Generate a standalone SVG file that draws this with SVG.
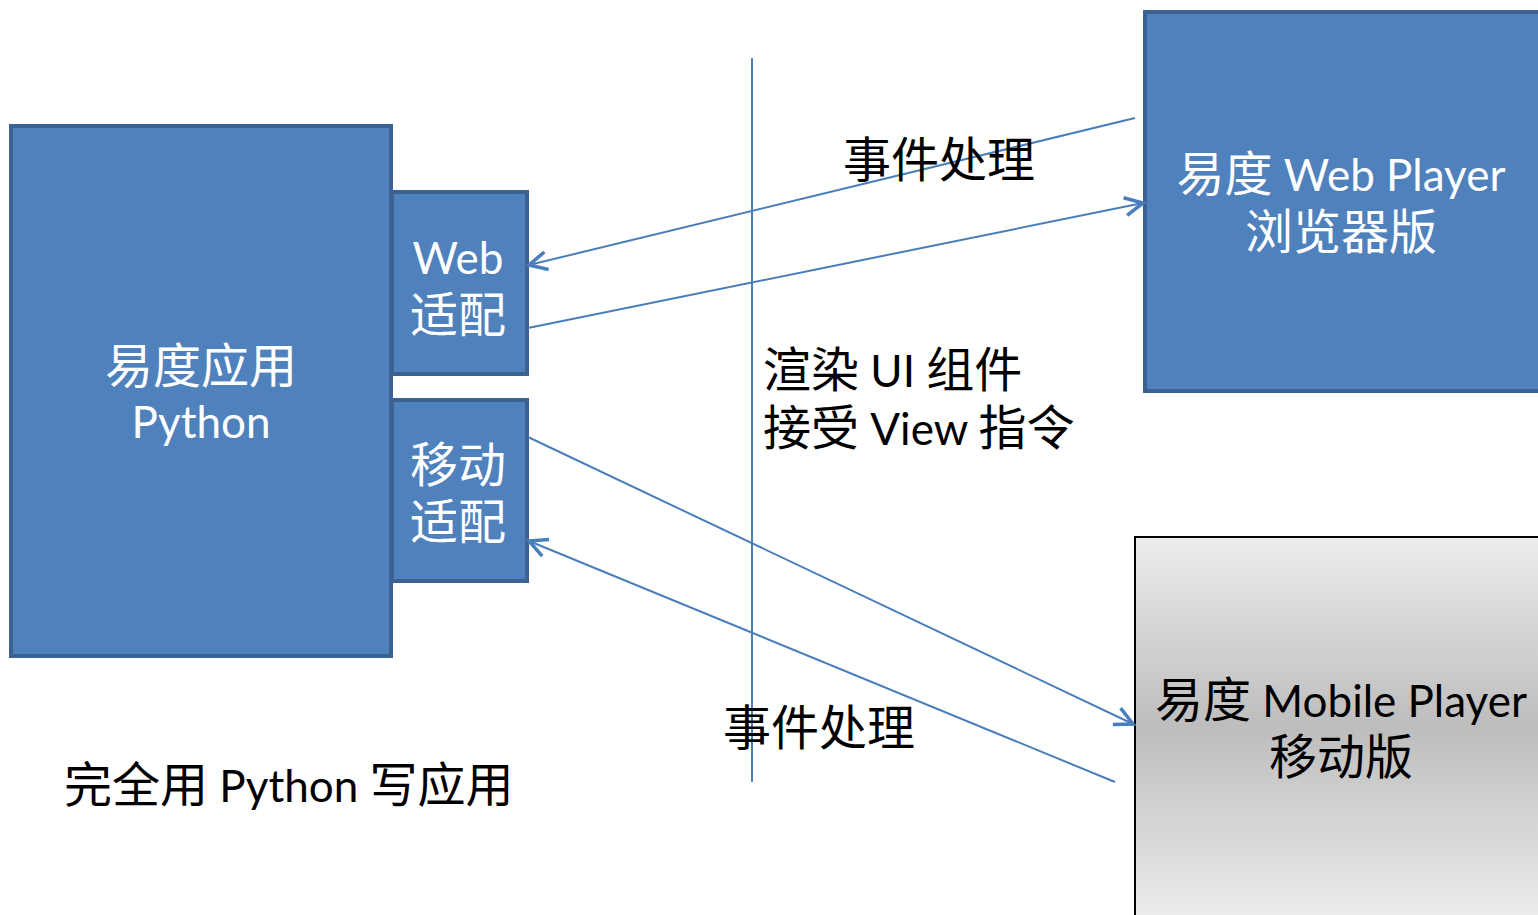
<svg xmlns="http://www.w3.org/2000/svg" width="1538" height="915" viewBox="0 0 1538 915">
<style>
.blue{fill:#4f81bd;stroke:#3b6290;stroke-width:4}
.wt{fill:#ffffff;font-family:"Lato","Noto Sans CJK SC",sans-serif;font-size:44px;text-anchor:middle}
.bt{fill:#000000;font-family:"Lato","Noto Sans CJK SC",sans-serif;font-size:44px}
.c{font-size:48px}
.conn{stroke:#4a7ebb;stroke-width:2;fill:none}
</style>
<defs>
<linearGradient id="g" x1="0" y1="0" x2="0" y2="1">
<stop offset="0" stop-color="#ececec"/>
<stop offset="0.5" stop-color="#bdbdbd"/>
<stop offset="1" stop-color="#ececec"/>
</linearGradient>
<marker id="ah" viewBox="0 0 24 24" refX="21" refY="12" markerWidth="24" markerHeight="24" markerUnits="userSpaceOnUse" orient="auto">
<path d="M3,3 L21,12 L3,21" fill="none" stroke="#4a7ebb" stroke-width="3.5"/>
</marker>
</defs>
<g id="app"><rect class="blue" x="11" y="126" width="380" height="530"/>
<text class="wt c" x="201" y="383">易度应用</text><text class="wt" x="201" y="438">Python</text></g>
<g id="webadapt"><rect class="blue" x="392" y="192" width="135" height="182"/>
<text class="wt" x="458" y="274">Web</text><text class="wt c" x="458" y="332">适配</text></g>
<g id="mobadapt"><rect class="blue" x="392" y="400" width="135" height="181"/>
<text class="wt c" x="458" y="482">移动</text><text class="wt c" x="458" y="539">适配</text></g>
<g id="webplayer"><rect class="blue" x="1145" y="12" width="400" height="379"/>
<text class="wt" x="1341" y="191"><tspan class="c">易度</tspan> Web Player</text><text class="wt c" x="1341" y="249">浏览器版</text></g>
<g id="mobileplayer"><rect x="1135" y="537" width="410" height="380" fill="url(#g)" stroke="#000" stroke-width="2"/>
<text class="wt" style="fill:#000" x="1341" y="717"><tspan class="c">易度</tspan> Mobile Player</text><text class="wt c" style="fill:#000" x="1341" y="774">移动版</text></g>
<g id="connectors">
<line class="conn" x1="752" y1="58" x2="752" y2="782"/>
<line class="conn" x1="1135" y1="118" x2="529" y2="265" marker-end="url(#ah)"/>
<line class="conn" x1="528" y1="328" x2="1143" y2="203" marker-end="url(#ah)"/>
<line class="conn" x1="528" y1="437" x2="1133" y2="724" marker-end="url(#ah)"/>
<line class="conn" x1="1115" y1="782" x2="529" y2="541" marker-end="url(#ah)"/>
</g>
<g id="labels">
<text class="bt c" x="843" y="177">事件处理</text>
<text class="bt" x="763" y="387"><tspan class="c">渲染</tspan> UI <tspan class="c">组件</tspan></text>
<text class="bt" x="763" y="445"><tspan class="c">接受</tspan> View <tspan class="c">指令</tspan></text>
<text class="bt c" x="723" y="745">事件处理</text>
<text class="bt" x="64" y="802"><tspan class="c">完全用</tspan> Python <tspan class="c">写应用</tspan></text>
</g>
</svg>
